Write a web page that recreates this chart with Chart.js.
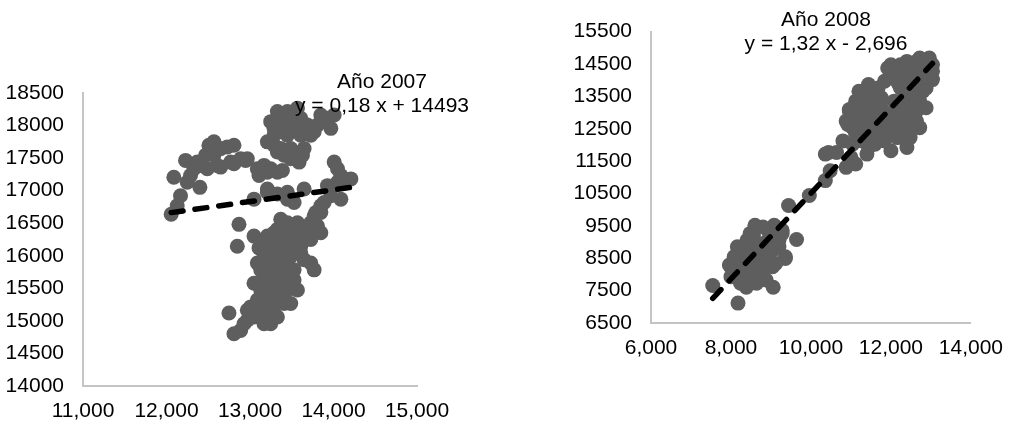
<!DOCTYPE html>
<html>
<head>
<meta charset="utf-8">
<script src="https://cdn.jsdelivr.net/npm/chart.js@4/dist/chart.umd.min.js"></script>
<style>
  html, body { margin: 0; padding: 0; background: #fff; }
  #wrap { position: relative; width: 1016px; height: 424px; overflow: hidden; }
  canvas { position: absolute; top: 0; }
  #c2007 { left: 0; }
  #c2008 { left: 500px; }
</style>
</head>
<body>
<div id="wrap">
  <canvas id="c2007" width="500" height="424"></canvas>
  <canvas id="c2008" width="516" height="424"></canvas>
</div>
<script>
// ---- 2007 ----
const x2007 = [
  12056,12088,12128,12168,12228,12248,12328,12400,12408,12468,12508,12568,12608,12648,12568,12728,
  12808,12808,12948,12968,13048,13088,13208,13208,13248,13328,13388,13208,13248,13328,13408,13448,
  13488,13528,13568,13588,13608,13648,13688,13768,13848,13928,13968,14008,13328,13408,13488,13288,
  13368,13448,13608,13288,
  13208,13328,13448,13528,13648,13448,14008,14048,14088,14128,14208,14048,14088,13928,13848,13788,
  13888,13968,
  12868,12848,13048,13108,13088,13168,13208,13248,13328,13368,13448,13488,13568,13608,13648,13688,
  13728,13808,13848,13768,13848,13368,13408,13328,13288,13368,13448,13488,13128,13168,13208,13248,
  13328,13408,13448,13528,13568,13648,13728,13768,13048,13128,13088,13208,13288,13328,13408,13488,
  13008,12968,12968,13128,13208,13288,13248,13328,12748,12808,12888,12928,13288,13408,13528,13208,
  12288,12368,12488,12528,12648,12768,12888,13108,13168,
  13288,13408,13528,13728,13808,13368,13628,
  13168,13288,13408,13528,13488,13608,13568,13248,13288,13448,13168,13248,13048,13168,13408,13208,
  13528,13608,13728
];
const y2007 = [
  16638,17207,16767,16922,17465,17129,17336,17051,17388,17543,17698,17750,17388,17362,17543,17672,
  17698,17414,17465,17491,16870,17336,17284,17026,17336,17284,17310,17750,18060,18215,18112,17853,
  17646,18008,18267,17439,17853,17646,18008,17905,18163,18112,17957,18163,17595,17543,17491,17957,
  17905,18215,18112,17698,
  16974,16948,16974,16819,17026,16870,17439,17336,17233,17181,17181,17129,16870,17077,16664,16664,
  16819,16922,
  16483,16146,16302,16121,15888,15991,16302,16250,16405,16560,16508,16353,16508,16457,16302,16405,
  16508,16457,16353,16612,16767,16198,16095,15991,15888,15784,15888,15991,15784,15681,15733,15577,
  15681,15577,15733,15629,15474,15940,15888,15784,15577,15474,15319,15474,15526,15319,15267,15267,
  15215,15164,15009,15164,15060,15112,14957,15060,15122,14802,14853,14957,16095,16302,16198,16095,
  17233,17439,17336,17595,17646,17439,17491,17233,17388,
  17853,17957,18163,17853,18008,17646,17543,
  16198,16353,16457,16457,16198,16146,16302,15888,15371,15474,15267,15267,15060,14957,15423,15836,
  15784,16043,16250
];
const slope2007 = 0.18;
const intercept2007 = 14493;
const title2007 = ['Año 2007', 'y = 0,18 x + 14493'];
const xTicks2007 = ['11,000', '12,000', '13,000', '14,000', '15,000'];
const yTicks2007 = ['14000', '14500', '15000', '15500', '16000', '16500', '17000', '17500', '18000', '18500'];

// ---- 2008 ----
const x2008 = [
  7544,8176,9056,8384,8600,8000,8160,8320,8480,8640,8800,8960,9040,8560,8480,8720,
  8880,8320,8080,8560,9120,9280,9200,9360,9640,8960,9440,9960,10360,10360,10480,10640,
  10800,10880,11000,11040,11120,10880,11120,11280,11440,11200,11040,11360,11440,11520,11840,12000,
  12080,12240,12400,12560,12720,12800,12960,13040,13040,12880,12720,12640,12640,12480,12400,12160,
  12000,11840,11680,11760,12080,12240,12480,12400,12160,12000,12400,12640,12160,11600,11360,11520,
  10960,9080,9280,9360,7960,8080,8400,8800,9040,9120,8800,8480,8240,8640,8880,10440,
  11080,10960,11200,11680,11840,12640,12800,12480,12240,12000,12880,12480,12320,11600,11400,
  11040,11200,11360,11520,11280,11440,11600,11760,11920,12080,12240,12480,12640,12800,12880,12640,
  12480,12240,12080,11920,12480,12720,12200,12400,12560,12720,12960,12880,12800,12320,12000,11920,
  13040,12400,12640,11680,11440,11200,11120,10920,11120,11280,11520,11760,
  8160,8320,8480,8720,8960,8640,8480,8800,8960,9200,8560,8240,8000
];
const y2008 = [
  7656,7114,7605,7605,9517,8239,8443,8648,8852,8648,8648,8443,8239,8239,8034,8034,
  8239,7932,7932,9210,9466,9261,8852,8494,9077,9057,10131,10437,10898,11716,11204,11767,
  12125,11307,11614,12023,11409,12739,13352,13659,13863,13045,12534,12227,11920,12329,13966,14477,
  14170,14477,14068,14477,14682,14375,14682,14272,14017,13761,13352,13045,12636,12432,12432,12227,
  12534,12739,13045,13454,13352,13352,13659,13045,12841,11818,11920,13863,13966,13352,12841,12739,
  13045,9517,9363,8545,8290,8545,9057,8955,8750,8341,8136,7932,8034,7727,7830,11767,
  12647,13096,12534,12432,12125,13557,14068,13045,13761,14068,14477,14375,12739,12023,11716,
  13045,13352,13147,13454,12739,12534,12943,13147,12943,13045,13045,13352,13352,13659,13147,12739,
  12636,12534,12534,12329,12227,12534,13863,13761,14068,14170,14068,14272,14579,14272,14272,14375,
  14477,14579,14579,13761,13557,13659,13147,12636,12329,12125,12023,12227,
  8852,8341,8545,8443,8750,8955,9261,9466,9261,9057,8136,7727,7932
];
const slope2008 = 1.32;
const intercept2008 = -2696;
const title2008 = ['Año 2008', 'y = 1,32 x - 2,696'];
const xTicks2008 = ['6,000', '8,000', '10,000', '12,000', '14,000'];
const yTicks2008 = ['6500', '7500', '8500', '9500', '10500', '11500', '12500', '13500', '14500', '15500'];

const FONT = 'Liberation Sans, Arial, sans-serif';
const DOT = '#5e5e5e';
const AXIS = '#c4c4c4';

// Writes the year and the trend equation above each plot.
const headerText = {
  id: 'headerText',
  afterDraw(chart, args, opts) {
    const ctx = chart.ctx;
    ctx.save();
    ctx.font = opts.size + 'px ' + FONT;
    ctx.fillStyle = '#000';
    ctx.textAlign = 'center';
    ctx.textBaseline = 'alphabetic';
    opts.lines.forEach((line, i) => ctx.fillText(line, opts.x, opts.baselines[i]));
    ctx.restore();
  }
};

function points(xs, ys) {
  return xs.map((x, i) => ({ x: x, y: ys[i] }));
}

// Least-squares line drawn across the span of the data, from its stated equation.
function trendPoints(xs, slope, intercept) {
  const lo = Math.min(...xs), hi = Math.max(...xs);
  return [{ x: lo, y: slope * lo + intercept }, { x: hi, y: slope * hi + intercept }];
}

function build(id, cfg) {
  new Chart(document.getElementById(id), {
    type: 'scatter',
    data: {
      datasets: [
        {
          data: trendPoints(cfg.xs, cfg.slope, cfg.intercept),
          showLine: true,
          borderColor: '#000',
          borderWidth: 5.5,
          borderDash: [12, 12],
          borderCapStyle: 'round',
          pointRadius: 0,
          order: 0
        },
        {
          data: points(cfg.xs, cfg.ys),
          backgroundColor: DOT,
          borderWidth: 0,
          pointRadius: 7.5,
          pointHoverRadius: 7.5,
          order: 1
        }
      ]
    },
    options: {
      responsive: false,
      devicePixelRatio: 1,
      animation: false,
      layout: { padding: cfg.padding },
      plugins: {
        legend: { display: false },
        tooltip: { enabled: false },
        headerText: { lines: cfg.title, x: cfg.titleX, baselines: cfg.titleBaselines, size: 21 }
      },
      scales: {
        x: {
          type: 'linear',
          min: cfg.xMin, max: cfg.xMax,
          afterFit: s => { s.height = 38; },
          afterBuildTicks: s => {
            s.ticks = cfg.xLabels.map((_, i) => ({ value: cfg.xMin + i * cfg.xStep }));
          },
          ticks: {
            callback: (v, i) => cfg.xLabels[i],
            font: { family: FONT, size: 21 },
            color: '#000',
            padding: 13,
            maxRotation: 0,
            autoSkip: false
          },
          grid: { display: false, drawTicks: false },
          border: { display: true, color: AXIS, width: 2 }
        },
        y: {
          type: 'linear',
          min: cfg.yMin, max: cfg.yMax,
          afterFit: s => { s.width = cfg.yWidth; },
          afterBuildTicks: s => {
            s.ticks = cfg.yLabels.map((_, i) => ({ value: cfg.yMin + i * cfg.yStep }));
          },
          ticks: {
            callback: (v, i) => cfg.yLabels[i],
            font: { family: FONT, size: 21 },
            color: '#000',
            padding: 19,
            autoSkip: false
          },
          grid: { display: false, drawTicks: false },
          border: { display: true, color: AXIS, width: 2 }
        }
      }
    },
    plugins: [headerText]
  });
}

build('c2007', {
  xs: x2007, ys: y2007, slope: slope2007, intercept: intercept2007,
  title: title2007, titleX: 382, titleBaselines: [88, 112],
  xLabels: xTicks2007, yLabels: yTicks2007,
  xMin: 11000, xMax: 15000, xStep: 1000,
  yMin: 14000, yMax: 18500, yStep: 500,
  yWidth: 83,
  padding: { top: 93, right: 83, bottom: 0, left: 0 }
});

build('c2008', {
  xs: x2008, ys: y2008, slope: slope2008, intercept: intercept2008,
  title: title2008, titleX: 326, titleBaselines: [26, 50],
  xLabels: xTicks2008, yLabels: yTicks2008,
  xMin: 6000, xMax: 14000, xStep: 2000,
  yMin: 6500, yMax: 15500, yStep: 1000,
  yWidth: 151,
  padding: { top: 30, right: 33, bottom: 63, left: 0 }
});
</script>
</body>
</html>
